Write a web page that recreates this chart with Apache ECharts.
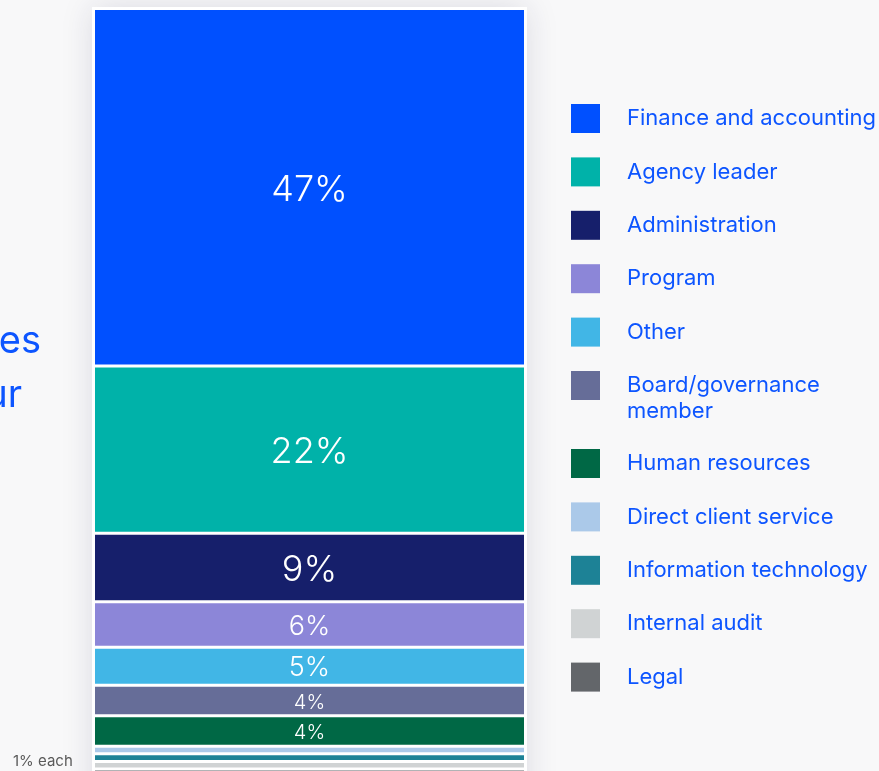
<!DOCTYPE html>
<html>
<head>
<meta charset="utf-8">
<script src="https://cdn.jsdelivr.net/npm/echarts@6/dist/echarts.min.js"></script>
<style>
html, body { margin: 0; padding: 0; background: #f8f8f9; }
#chart { width: 879px; height: 771px; }
</style>
</head>
<body>
<div id="chart"></div>
<script>
var roles = ['Finance and accounting', 'Agency leader', 'Administration', 'Program', 'Other',
    'Board/governance member', 'Human resources', 'Direct client service',
    'Information technology', 'Internal audit', 'Legal'];
var shares = [47, 22, 9, 6, 5, 4, 4, 1, 1, 1, 1];
var colors = ['#0050ff', '#00b2a9', '#161f6b', '#8c86d8', '#41b6e6', '#666d98',
    '#006845', '#abc9e9', '#1d8296', '#d0d3d4', '#63666a'];
var sideWords = ['es', 'ur'];
var smallNote = '1% each';

var blue = '#0d55ff';
var font = 'Inter, "Noto Sans", sans-serif';

function labelSize(v) {
    if (v >= 9) return 36;
    if (v >= 5) return 27;
    return 20;
}

var series = roles.map(function (r, i) {
    var size = labelSize(shares[i]);
    return {
        name: r,
        type: 'bar',
        stack: 'total',
        barWidth: '100%',
        itemStyle: { color: colors[i], borderColor: '#fff', borderWidth: 1.5 },
        label: {
            show: shares[i] > 1,
            position: 'inside',
            offset: [0, Math.round(size / 12)],
            color: '#fff',
            fontFamily: font,
            fontWeight: 300,
            fontSize: size,
            formatter: '{c}%'
        },
        emphasis: { disabled: true },
        data: [shares[i]]
    };
});

function makeLegend(names, top, extra) {
    var ts = {
        color: blue,
        fontFamily: font,
        fontSize: 22,
        padding: [0, 0, 0, 22]
    };
    if (extra) {
        for (var k in extra) ts[k] = extra[k];
    }
    return {
        data: names,
        orient: 'vertical',
        left: 571,
        top: top,
        padding: 0,
        icon: 'rect',
        itemWidth: 29,
        itemHeight: 29,
        itemGap: 24.4,
        itemStyle: { borderWidth: 0 },
        selectedMode: false,
        formatter: function (name) {
            // board item: first line sits level with the swatch
            return name == 'Board/governance member' ? '\nBoard/governance\nmember' : name;
        },
        textStyle: ts
    };
}

var option = {
    backgroundColor: '#f8f8f9',
    animation: false,
    // the bar runs past the bottom edge, so let the grid leave the canvas
    grid: { left: 93.5, top: 8.5, width: 432, height: 768.1, outerBoundsMode: 'none' },
    xAxis: { type: 'category', data: ['roles'], show: false },
    yAxis: { type: 'value', inverse: true, min: 0, max: 101, show: false },
    legend: [
        makeLegend(roles.slice(0, 5), 104),
        makeLegend([roles[5]], 346.5, { lineHeight: 26 }),
        makeLegend(roles.slice(6), 449)
    ],
    graphic: [
        {
            type: 'rect',
            z: -10,
            shape: { x: 92, y: 7, width: 435, height: 800 },
            style: { fill: '#fff', shadowBlur: 30, shadowColor: 'rgba(30,30,80,0.13)' }
        },
        {
            type: 'text',
            style: { text: sideWords[0], x: 41, y: 342, align: 'right', verticalAlign: 'middle',
                fill: blue, fontSize: 38, fontFamily: font }
        },
        {
            type: 'text',
            style: { text: sideWords[1], x: 22, y: 396, align: 'right', verticalAlign: 'middle',
                fill: blue, fontSize: 38, fontFamily: font }
        },
        {
            type: 'text',
            style: { text: smallNote, x: 13, y: 761, verticalAlign: 'middle',
                fill: '#5a5a5a', fontSize: 15, fontFamily: font }
        }
    ],
    series: series
};

var myChart = echarts.init(document.getElementById('chart'));
myChart.setOption(option);
</script>
</body>
</html>
